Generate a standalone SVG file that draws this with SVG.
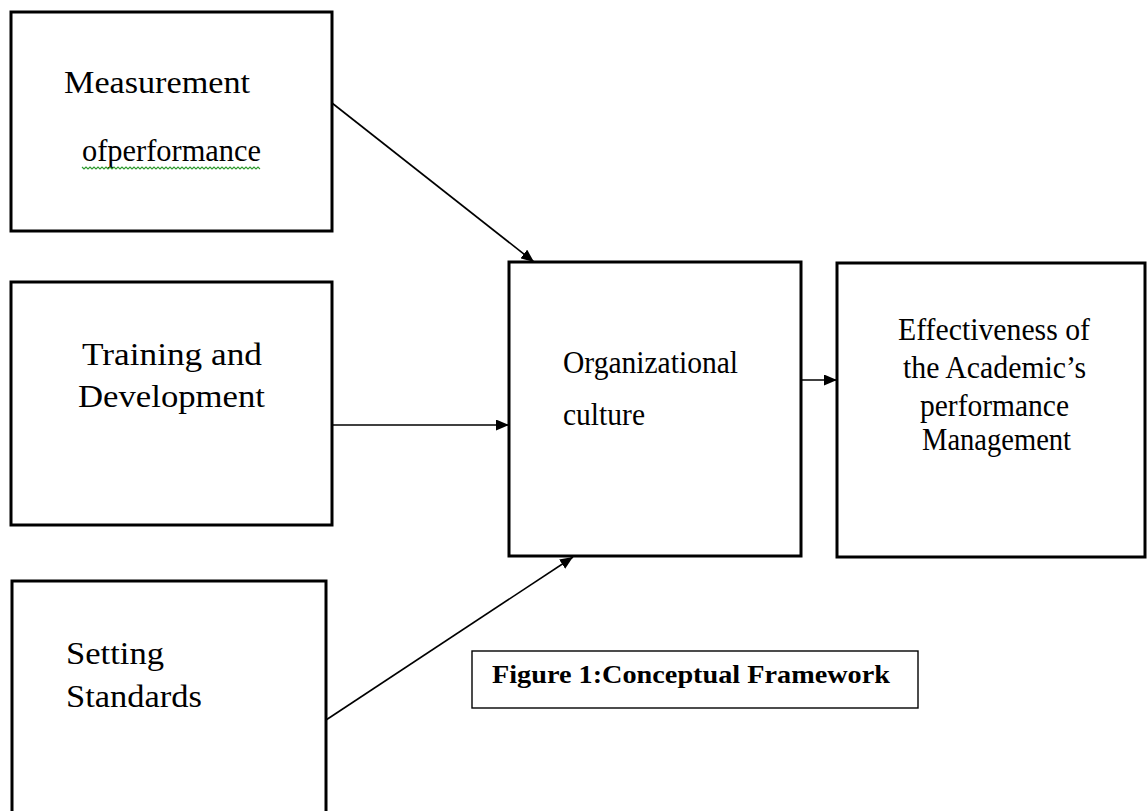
<svg xmlns="http://www.w3.org/2000/svg" width="1147" height="811" viewBox="0 0 1147 811">
<style>
.box{fill:#fff;stroke:#000;stroke-width:3}
.lbl{font-family:"Liberation Serif","Times New Roman",serif;font-size:31px;fill:#000}
.cap{font-family:"Liberation Serif","Times New Roman",serif;font-size:26px;font-weight:bold;fill:#000}
.conn{stroke:#000;stroke-width:1.6;fill:none;marker-end:url(#ah)}
</style>
<defs>
<marker id="ah" viewBox="0 0 13 11" refX="13" refY="5.5" markerWidth="13" markerHeight="11" markerUnits="userSpaceOnUse" orient="auto">
<path d="M0,0 L13,5.5 L0,11 Z" fill="#000"/>
</marker>
</defs>
<rect width="1147" height="811" fill="#fff"/>
<g id="measurement">
<rect class="box" x="11" y="12" width="321" height="219"/>
<text class="lbl" x="64" y="93" textLength="186" lengthAdjust="spacingAndGlyphs">Measurement</text>
<text class="lbl" x="82" y="161" textLength="179" lengthAdjust="spacingAndGlyphs">ofperformance</text>
<polyline points="82,167 84,169 86,167 88,169 90,167 92,169 94,167 96,169 98,167 100,169 102,167 104,169 106,167 108,169 110,167 112,169 114,167 116,169 118,167 120,169 122,167 124,169 126,167 128,169 130,167 132,169 134,167 136,169 138,167 140,169 142,167 144,169 146,167 148,169 150,167 152,169 154,167 156,169 158,167 160,169 162,167 164,169 166,167 168,169 170,167 172,169 174,167 176,169 178,167 180,169 182,167 184,169 186,167 188,169 190,167 192,169 194,167 196,169 198,167 200,169 202,167 204,169 206,167 208,169 210,167 212,169 214,167 216,169 218,167 220,169 222,167 224,169 226,167 228,169 230,167 232,169 234,167 236,169 238,167 240,169 242,167 244,169 246,167 248,169 250,167 252,169 254,167 256,169 258,167 260,169" fill="none" stroke="#2e9a2e" stroke-width="1.1"/>
</g>
<g id="training">
<rect class="box" x="11" y="282" width="321" height="243"/>
<text class="lbl" x="82" y="365" textLength="180" lengthAdjust="spacingAndGlyphs">Training and</text>
<text class="lbl" x="78" y="407" textLength="187" lengthAdjust="spacingAndGlyphs">Development</text>
</g>
<g id="setting">
<rect class="box" x="12" y="581" width="314" height="240"/>
<text class="lbl" x="66" y="664" textLength="98" lengthAdjust="spacingAndGlyphs">Setting</text>
<text class="lbl" x="66" y="707" textLength="136" lengthAdjust="spacingAndGlyphs">Standards</text>
</g>
<g id="culture">
<rect class="box" x="509" y="262" width="292" height="294"/>
<text class="lbl" x="563" y="373" textLength="175" lengthAdjust="spacingAndGlyphs">Organizational</text>
<text class="lbl" x="563" y="425" textLength="82" lengthAdjust="spacingAndGlyphs">culture</text>
</g>
<g id="effectiveness">
<rect class="box" x="837" y="263" width="308" height="294"/>
<text class="lbl" x="898" y="340" textLength="192" lengthAdjust="spacingAndGlyphs">Effectiveness of</text>
<text class="lbl" x="903" y="378" textLength="183" lengthAdjust="spacingAndGlyphs">the Academic’s</text>
<text class="lbl" x="920" y="416" textLength="149" lengthAdjust="spacingAndGlyphs">performance</text>
<text class="lbl" x="922" y="450" textLength="149" lengthAdjust="spacingAndGlyphs">Management</text>
</g>
<g id="caption">
<rect x="472" y="651" width="446" height="57" fill="#fff" stroke="#000" stroke-width="1.4"/>
<text class="cap" x="492" y="683" textLength="398" lengthAdjust="spacingAndGlyphs">Figure 1:Conceptual Framework</text>
</g>
<g id="connectors">
<line class="conn" x1="332" y1="103" x2="534" y2="262"/>
<line class="conn" x1="332" y1="425" x2="509" y2="425"/>
<line class="conn" x1="326" y1="720" x2="573" y2="557"/>
<line class="conn" x1="801" y1="380" x2="837" y2="380"/>
</g>
</svg>
